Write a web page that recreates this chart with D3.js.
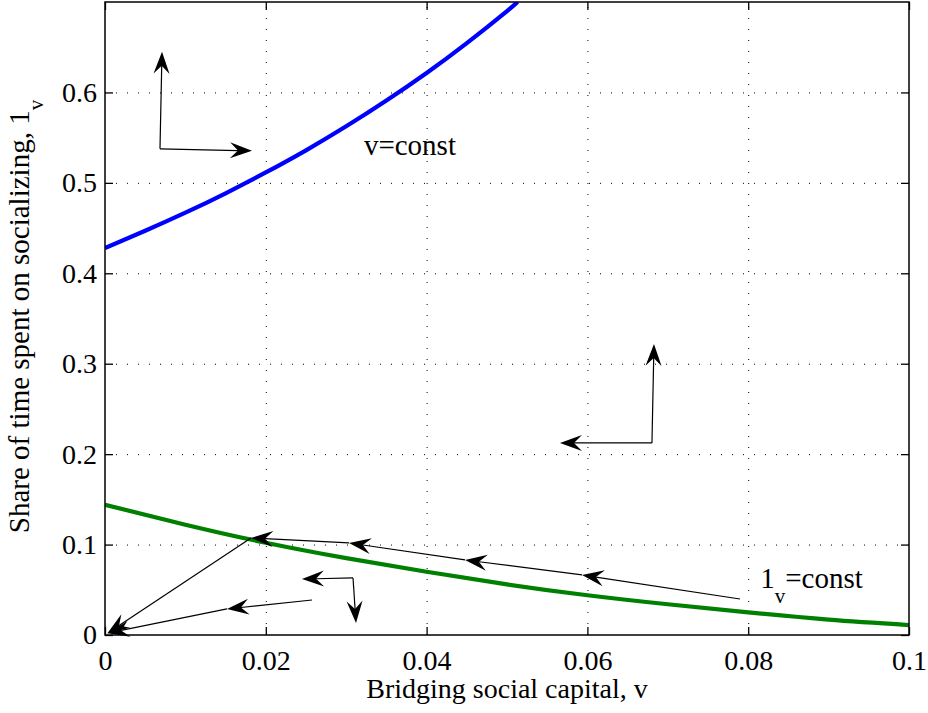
<!DOCTYPE html>
<html>
<head>
<meta charset="utf-8">
<script src="https://cdn.jsdelivr.net/npm/d3@7"></script>
</head>
<body style="margin:0">
<svg class="plot"></svg>
<script>
const FONT = 'Liberation Serif'

// chart size
const W = 928, H = 713
const margin = { left: 105, right: 19, top: 2, bottom: 78 }
const width = W - margin.left - margin.right
const height = H - margin.top - margin.bottom

// data
const xTicks = [0, 0.02, 0.04, 0.06, 0.08, 0.1]
const xTickLabels = ['0', '0.02', '0.04', '0.06', '0.08', '0.1']
const yTicks = [0, 0.1, 0.2, 0.3, 0.4, 0.5, 0.6]
const yTickLabels = ['0', '0.1', '0.2', '0.3', '0.4', '0.5', '0.6']

// v = const locus (blue)
const vConstV = [0, 0.005, 0.01, 0.015, 0.02, 0.025, 0.03, 0.035, 0.04, 0.045, 0.05, 0.0513]
const vConstL = [0.428, 0.447, 0.467, 0.4885, 0.5115, 0.536, 0.5625, 0.591, 0.6215, 0.6545, 0.690, 0.700]

// l_v = const locus (green)
const lConstV = [0, 0.01, 0.02, 0.03, 0.04, 0.05, 0.06, 0.07, 0.08, 0.09, 0.1]
const lConstL = [0.144, 0.122, 0.102, 0.085, 0.070, 0.056, 0.044, 0.034, 0.025, 0.017, 0.011]

// phase arrows: [from, to]
const arrows = [
  [[0.00684, 0.5376], [0.00709, 0.645]],
  [[0.00684, 0.5376], [0.01828, 0.5354]],
  [[0.06803, 0.2124], [0.06828, 0.3219]],
  [[0.06803, 0.2124], [0.05659, 0.2124]],
  [[0.07898, 0.0398], [0.05933, 0.0664]],
  [[0.05933, 0.0664], [0.04478, 0.0830]],
  [[0.04478, 0.0830], [0.03035, 0.1018]],
  [[0.03035, 0.1018], [0.01816, 0.1073]],
  [[0.01816, 0.1073], [0.0003, 0.002]],
  [[0.03085, 0.0631], [0.0245, 0.0619]],
  [[0.03085, 0.0631], [0.03122, 0.0133]],
  [[0.02575, 0.0387], [0.01517, 0.0288]],
  [[0.01517, 0.0288], [0.0003, 0.002]],
]

const x = d3.scaleLinear().domain([0, 0.1]).range([0, width])
const y = d3.scaleLinear().domain([0, 0.7]).range([height, 0])

const svg = d3.select('.plot')
    .attr('width', W)
    .attr('height', H)
const canvas = svg.append('g')
    .attr('transform', `translate(${margin.left}, ${margin.top})`)

svg.append('defs').append('clipPath')
    .attr('id', 'clip')
  .append('rect')
    .attr('width', width)
    .attr('height', height)

// Grid
// ====
const grid = canvas.append('g')
grid.append('g')
    .attr('transform', `translate(0, ${height})`)
    .call(d3.axisBottom(x).tickValues(xTicks.slice(1, -1)).tickSize(-height).tickFormat(''))
grid.append('g')
    .call(d3.axisLeft(y).tickValues(yTicks.slice(1)).tickSize(-width).tickFormat(''))
grid.selectAll('.domain').remove()
grid.selectAll('line')
    .attr('stroke', '#000')
    .attr('stroke-width', 1)
    .attr('stroke-dasharray', '1,10')

// Curves
// ======
const line = d3.line()
    .x(d => x(d[0]))
    .y(d => y(d[1]))
    .curve(d3.curveNatural)

const curves = canvas.append('g').attr('clip-path', 'url(#clip)')
curves.append('path')
    .datum(vConstV.map((v, i) => [v, vConstL[i]]))
    .attr('d', line)
    .attr('fill', 'none')
    .attr('stroke', '#0000ff')
    .attr('stroke-width', 4.2)
curves.append('path')
    .datum(lConstV.map((v, i) => [v, lConstL[i]]))
    .attr('d', line)
    .attr('fill', 'none')
    .attr('stroke', '#008000')
    .attr('stroke-width', 4.2)

// Box & ticks
// ===========
const tickLen = 8
const styleAxis = g => {
  g.attr('font-family', null).attr('font-size', 28)
  g.selectAll('text').attr('fill', '#000')
  g.selectAll('line').attr('stroke', '#000').attr('stroke-width', 1.3)
  g.select('.domain').remove()
}
canvas.append('g')
    .attr('transform', `translate(0, ${height})`)
    .call(d3.axisBottom(x).tickValues(xTicks).tickSize(-tickLen).tickPadding(15)
      .tickFormat((d, i) => xTickLabels[i]))
    .call(styleAxis)
canvas.append('g')
    .call(d3.axisLeft(y).tickValues(yTicks).tickSize(-tickLen).tickPadding(8)
      .tickFormat((d, i) => yTickLabels[i]))
    .call(styleAxis)
canvas.append('g')
    .call(d3.axisTop(x).tickValues(xTicks).tickSize(-tickLen).tickFormat(''))
    .call(styleAxis)
canvas.append('g')
    .attr('transform', `translate(${width}, 0)`)
    .call(d3.axisRight(y).tickValues(yTicks).tickSize(-tickLen).tickFormat(''))
    .call(styleAxis)

canvas.append('rect')
    .attr('width', width)
    .attr('height', height)
    .attr('fill', 'none')
    .attr('stroke', '#000')
    .attr('stroke-width', 1.5)

// Arrows
// ======
const headLen = 22, headHalf = 8, notch = 14
const arrowG = canvas.append('g')
arrows.forEach(([a, b]) => {
  const x0 = x(a[0]), y0 = y(a[1]), x1 = x(b[0]), y1 = y(b[1])
  const ang = Math.atan2(y1 - y0, x1 - x0)
  const c = Math.cos(ang), s = Math.sin(ang)
  const pt = (back, side) => [x1 - back * c - side * s, y1 - back * s + side * c]
  arrowG.append('line')
      .attr('x1', x0).attr('y1', y0)
      .attr('x2', pt(notch, 0)[0]).attr('y2', pt(notch, 0)[1])
      .attr('stroke', '#000')
      .attr('stroke-width', 1.2)
  arrowG.append('path')
      .attr('d', d3.line()([[x1, y1], pt(headLen, headHalf), pt(notch, 0), pt(headLen, -headHalf)]) + 'Z')
      .attr('fill', '#000')
})

// Labels
// ======
canvas.append('text')
    .attr('x', x(0.0322))
    .attr('y', y(0.531))
    .attr('font-size', 29)
    .text('v=const')

const lab = canvas.append('text')
    .attr('x', x(0.0815))
    .attr('y', y(0.052))
    .attr('font-size', 29)
lab.append('tspan').text('1')
lab.append('tspan').attr('font-size', 21).attr('dy', 15).text('v')
lab.append('tspan').attr('dy', -15).text('=const')

svg.append('text')
    .attr('x', margin.left + width / 2)
    .attr('y', 698)
    .attr('text-anchor', 'middle')
    .attr('font-size', 28)
    .text('Bridging social capital, v')

const ylab = svg.append('text')
    .attr('transform', `translate(29, ${margin.top + height / 2 - 2}) rotate(-90)`)
    .attr('text-anchor', 'middle')
    .attr('font-size', 29)
ylab.append('tspan').text('Share of time spent on socializing, 1')
ylab.append('tspan').attr('font-size', 21).attr('dy', 14).text('v')

svg.selectAll('text').style('font-family', `"${FONT}"`).attr('fill', '#000')
</script>
</body>
</html>
